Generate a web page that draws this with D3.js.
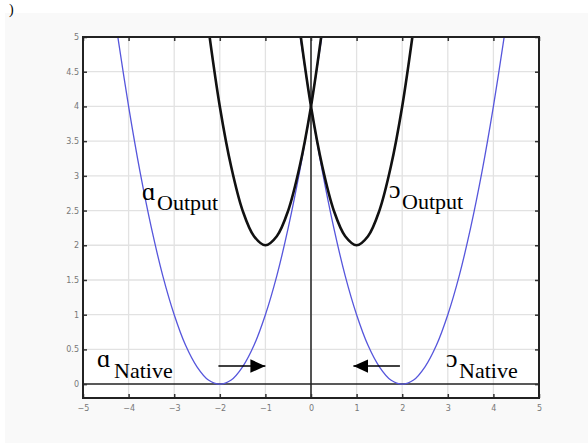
<!DOCTYPE html>
<html>
<head>
<meta charset="utf-8">
<script src="https://cdn.jsdelivr.net/npm/d3@7"></script>
<style>
body{margin:0;background:#fff;}
</style>
</head>
<body>
<div id="chart"></div>
<script>
// tick values
var xTicks = [-5,-4,-3,-2,-1,0,1,2,3,4,5];
var yTicks = [0,0.5,1,1.5,2,2.5,3,3.5,4,4.5,5];

// curves
var nativeLeftX  = [-4.25,-4,-3.75,-3.5,-3.25,-3,-2.75,-2.5,-2.25,-2,-1.75,-1.5,-1.25,-1,-0.75,-0.5,-0.25,0,0.25];
var nativeLeftY  = [5.06,4,3.06,2.25,1.56,1,0.56,0.25,0.06,0,0.06,0.25,0.56,1,1.56,2.25,3.06,4,5.06];
var nativeRightX = [-0.25,0,0.25,0.5,0.75,1,1.25,1.5,1.75,2,2.25,2.5,2.75,3,3.25,3.5,3.75,4,4.25];
var nativeRightY = [5.06,4,3.06,2.25,1.56,1,0.56,0.25,0.06,0,0.06,0.25,0.56,1,1.56,2.25,3.06,4,5.06];
var outputLeftX  = [-2.25,-2,-1.75,-1.5,-1.25,-1,-0.75,-0.5,-0.25,0,0.25];
var outputLeftY  = [5.13,4,3.13,2.5,2.13,2,2.13,2.5,3.13,4,5.13];
var outputRightX = [-0.25,0,0.25,0.5,0.75,1,1.25,1.5,1.75,2,2.25];
var outputRightY = [5.13,4,3.13,2.5,2.13,2,2.13,2.5,3.13,4,5.13];

// arrows (x from, x to, y)
var arrowFrom = [-2.03, 1.95];
var arrowTo   = [-1.0, 0.93];
var arrowY    = [0.26, 0.26];

var W = 588, H = 443;
var margin = {top: 37, right: 49, bottom: 45, left: 83},
	width = W - margin.left - margin.right,
	height = H - margin.top - margin.bottom;

var x = d3.scaleLinear().domain([-5,5]).range([0,width]);
var y = d3.scaleLinear().domain([-0.2,5]).range([height,0]);

var svg0 = d3.select("#chart").append("svg")
	.attr("width",W).attr("height",H);

svg0.append("rect").attr("x",5).attr("y",13).attr("width",W-5).attr("height",H-13).attr("fill","#f9f9f9");
svg0.append("text").attr("x",9).attr("y",14).text(")")
	.style("font-family","Liberation Serif").style("font-size","14px");

var defs = svg0.append("defs");
defs.append("clipPath").attr("id","clip").append("rect").attr("width",width).attr("height",height);
defs.append("marker").attr("id","head")
	.attr("viewBox","0 0 10 10").attr("refX",10).attr("refY",5)
	.attr("markerWidth",15).attr("markerHeight",15).attr("markerUnits","userSpaceOnUse")
	.attr("orient","auto")
	.append("path").attr("d","M0,0.5L10,5L0,9.5Z").attr("fill","#000");

var svg = svg0.append("g")
	.attr("transform","translate(" + margin.left + "," + margin.top + ")");

svg.append("rect").attr("width",width).attr("height",height).attr("fill","#fff");

// grid
svg.selectAll(".gx").data(xTicks.slice(1,-1)).enter().append("line")
	.attr("x1",function(d){return x(d);}).attr("x2",function(d){return x(d);})
	.attr("y1",0).attr("y2",height)
	.attr("stroke","#e2e2e2").attr("stroke-width",1.3);
svg.selectAll(".gy").data(yTicks.slice(1,-1)).enter().append("line")
	.attr("y1",function(d){return y(d);}).attr("y2",function(d){return y(d);})
	.attr("x1",0).attr("x2",width)
	.attr("stroke","#e2e2e2").attr("stroke-width",1.3);

// zero lines
svg.append("line").attr("x1",0).attr("x2",width).attr("y1",y(0)).attr("y2",y(0))
	.attr("stroke","#222").attr("stroke-width",1.5);
svg.append("line").attr("x1",x(0)).attr("x2",x(0)).attr("y1",0).attr("y2",height)
	.attr("stroke","#222").attr("stroke-width",1.5);

// axes
var axL = d3.axisLeft(y).tickValues(yTicks).tickSize(-4).tickPadding(4).tickFormat(d3.format("~g"));
var axR = d3.axisRight(y).tickValues(yTicks).tickSize(-4).tickFormat("");
var axB = d3.axisBottom(x).tickValues(xTicks).tickSize(-4).tickPadding(7);
var axT = d3.axisTop(x).tickValues(xTicks).tickSize(-4).tickFormat("");

function styleAxis(g){
	g.select(".domain").remove();
	g.selectAll("line").attr("stroke","#333").attr("stroke-width",1.5);
	g.selectAll("text").attr("fill","#777").style("font-family","DejaVu Sans").style("font-size","8px");
}
svg.append("g").call(axL).call(styleAxis);
svg.append("g").attr("transform","translate(" + width + ",0)").call(axR).call(styleAxis);
svg.append("g").attr("transform","translate(0," + height + ")").call(axB).call(styleAxis);
svg.append("g").call(axT).call(styleAxis);

// curves
var line = d3.line()
	.x(function(d){return x(d[0]);})
	.y(function(d){return y(d[1]);})
	.curve(d3.curveCatmullRom);

var curves = svg.append("g").attr("clip-path","url(#clip)");
function draw(xs,ys,col,w){
	curves.append("path")
		.datum(d3.zip(xs,ys))
		.attr("d",line)
		.attr("fill","none")
		.attr("stroke",col)
		.attr("stroke-width",w);
}
draw(nativeLeftX,nativeLeftY,"#5656dc",1.3);
draw(nativeRightX,nativeRightY,"#5656dc",1.3);
draw(outputLeftX,outputLeftY,"#111",2.6);
draw(outputRightX,outputRightY,"#111",2.6);

// arrows
for(var i=0;i<arrowFrom.length;i++){
	svg.append("line")
		.attr("x1",x(arrowFrom[i])).attr("x2",x(arrowTo[i]))
		.attr("y1",y(arrowY[i])).attr("y2",y(arrowY[i]))
		.attr("stroke","#000").attr("stroke-width",1.5)
		.attr("marker-end","url(#head)");
}

svg.append("rect").attr("width",width).attr("height",height)
	.attr("fill","none").attr("stroke","#222").attr("stroke-width",2);

// labels: symbol, subscript
function label(sym,sub,sx,sy,bx,by){
	svg0.append("text").attr("x",sx).attr("y",sy).text(sym)
		.style("font-family","Liberation Serif").style("font-size","26px").attr("fill","#000");
	svg0.append("text").attr("x",bx).attr("y",by).text(sub)
		.style("font-family","Liberation Serif").style("font-size","22px").attr("fill","#000");
}
label("ɑ","Output",142,200,157,210);
label("ɔ","Output",389,198,402,209);
label("ɑ","Native",97,367,114,378);
label("ɔ","Native",446,367,459,378);
</script>
</body>
</html>
